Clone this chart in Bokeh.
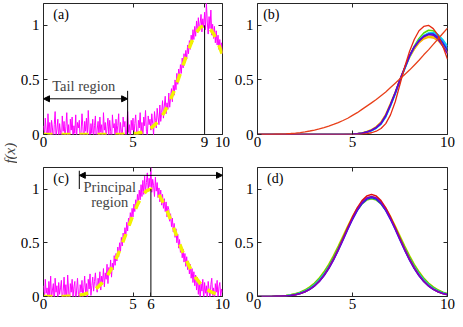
import numpy as np
from math import pi
from bokeh.plotting import figure
from bokeh.layouts import row, column
from bokeh.models import (Range1d, LinearAxis, FixedTicker, Label, Arrow, NormalHead,
                          CustomJSTickFormatter)
from bokeh.embed import file_html
from bokeh.resources import INLINE

# ---------------- data ----------------
x_noisy = np.linspace(0, 10, 201)
x_smooth = np.linspace(0, 10, 41)

# (a) noisy samples (step 0.05) and clean dashed function (step 0.25)
a_noisy = [0.08, -0.03, 0.15, 0.04, -0.07, 0.19, 0.01, 0.11, -0.05, 0.13, 0.06, -0.10, 0.09, 0.21, -0.02, 0.05, 0.14, -0.06, 0.10, 0.02,
           -0.08, 0.17, 0.03, 0.12, -0.04, 0.07, 0.20, -0.01, 0.09, -0.11, 0.14, 0.04, 0.16, -0.05, 0.08, 0.01, 0.18, -0.03, 0.11, 0.06,
           0.13, -0.06, 0.02, 0.19, 0.07, -0.09, 0.12, 0.03, 0.15, -0.02, 0.22, 0.05, -0.07, 0.10, 0.01, 0.14, -0.04, 0.08, 0.17, -0.10,
           0.05, 0.12, -0.03, 0.16, 0.02, 0.09, -0.08, 0.20, 0.04, 0.11, -0.05, 0.07, 0.15, -0.01, 0.13, 0.03, -0.09, 0.18, 0.06, 0.10,
           -0.04, 0.14, 0.01, 0.08, 0.19, -0.06, 0.11, 0.03, -0.02, 0.16, 0.07, 0.12, -0.08, 0.05, 0.21, 0.02, 0.09, -0.05, 0.13, 0.04,
           0.15, -0.03, 0.10, 0.18, 0.02, -0.06, 0.13, 0.06, 0.20, 0.01, 0.11, -0.04, 0.16, 0.08, 0.22, 0.03, -0.02, 0.17, 0.09, 0.14,
           0.04, 0.19, 0.10, -0.01, 0.21, 0.13, 0.06, 0.24, 0.16, 0.09, 0.27, 0.12, 0.20, 0.31, 0.15, 0.26, 0.35, 0.19, 0.29, 0.23,
           0.38, 0.25, 0.34, 0.42, 0.30, 0.45, 0.36, 0.50, 0.41, 0.56, 0.46, 0.60, 0.52, 0.64, 0.56, 0.70, 0.61, 0.74, 0.66, 0.77,
           0.69, 0.82, 0.74, 0.86, 0.78, 0.91, 0.83, 0.96, 0.87, 0.99, 0.90, 1.04, 0.93, 1.07, 0.95, 1.02, 1.10, 0.94, 1.06, 0.98,
           1.12, 0.96, 1.21, 1.03, 0.92, 1.08, 0.97, 1.14, 0.91, 1.01, 0.88, 0.99, 0.84, 0.95, 0.82, 0.91, 0.78, 0.87, 0.76, 0.84,
           0.74]
a_clean = [0, 0, 0, 0, 0, 0, 0, 0, 0, 0, 0, 0, 0, 0, 0, 0, 0, 0,
           0.002, 0.003, 0.007, 0.012, 0.021, 0.036, 0.059, 0.092, 0.140, 0.203,
           0.284, 0.381, 0.492, 0.611, 0.730, 0.838, 0.924, 0.980, 1.0, 0.980,
           0.924, 0.838, 0.730]

# (c) noisy samples (step 0.05) and clean dashed function (step 0.25)
c_noisy = [0.10, -0.04, 0.16, 0.03, 0.08, -0.07, 0.14, 0.01, 0.19, -0.02, 0.06, 0.12, -0.09, 0.17, 0.04, 0.10, -0.05, 0.13, 0.02, 0.08,
           0.15, -0.06, 0.05, 0.18, 0.01, 0.11, -0.03, 0.20, 0.07, -0.08, 0.12, 0.04, 0.16, -0.01, 0.09, 0.14, -0.07, 0.06, 0.17, 0.02,
           -0.05, 0.11, 0.04, 0.15, -0.02, 0.08, 0.19, 0.03, 0.12, -0.06, 0.16, 0.07, 0.21, 0.01, 0.10, 0.18, 0.05, 0.14, 0.22, 0.09,
           0.04, 0.17, 0.11, 0.23, 0.06, 0.19, 0.13, 0.26, 0.09, 0.22, 0.16, 0.30, 0.12, 0.27, 0.21, 0.34, 0.18, 0.31, 0.25, 0.38,
           0.29, 0.40, 0.33, 0.46, 0.37, 0.50, 0.42, 0.55, 0.47, 0.59, 0.52, 0.64, 0.56, 0.69, 0.61, 0.73, 0.66, 0.78, 0.70, 0.82,
           0.74, 0.86, 0.79, 0.90, 0.83, 0.95, 0.87, 0.99, 0.90, 1.04, 0.93, 1.08, 0.95, 1.12, 0.97, 1.06, 1.15, 0.98, 1.10, 1.02,
           1.20, 0.97, 1.09, 1.03, 0.93, 1.11, 0.98, 1.06, 0.92, 1.01, 0.88, 0.99, 0.85, 0.95, 0.82, 0.91, 0.79, 0.88, 0.74, 0.84,
           0.81, 0.70, 0.77, 0.65, 0.73, 0.60, 0.68, 0.55, 0.63, 0.50, 0.58, 0.45, 0.53, 0.41, 0.48, 0.36, 0.44, 0.32, 0.40, 0.28,
           0.37, 0.25, 0.33, 0.21, 0.30, 0.17, 0.26, 0.13, 0.23, 0.10, 0.20, 0.06, 0.18, 0.02, 0.15, -0.02, 0.12, 0.05, 0.16, -0.04,
           0.13, 0.03, 0.10, -0.05, 0.14, 0.06, -0.02, 0.11, 0.17, 0.01, 0.08, -0.06, 0.12, 0.04, 0.15, -0.03, 0.09, 0.13, 0.00, 0.07,
           0.03]
c_clean = [0, 0, 0, 0.001, 0.001, 0.002, 0.004, 0.007, 0.012, 0.020, 0.033, 0.053,
           0.082, 0.122, 0.176, 0.245, 0.329, 0.427, 0.535, 0.648, 0.758, 0.855,
           0.933, 0.983, 1.0, 0.983, 0.933, 0.855, 0.758, 0.648, 0.535, 0.427,
           0.329, 0.245, 0.176, 0.122, 0.082, 0.053, 0.033, 0.020, 0.012]

# (b) reconstructed curves (step 0.25)
b_broad_red = [0, 0, 0.001, 0.002, 0.003, 0.004, 0.006, 0.009, 0.013, 0.018, 0.024,
               0.032, 0.041, 0.051, 0.063, 0.077, 0.092, 0.109, 0.128, 0.149, 0.175,
               0.20, 0.23, 0.26, 0.29, 0.32, 0.355, 0.39, 0.43, 0.47, 0.51,
               0.55, 0.59, 0.635, 0.68, 0.73, 0.775, 0.825, 0.875, 0.925, 0.975]
b_sharp_red = [0, 0, 0, 0, 0, 0, 0, 0, 0, 0, 0, 0, 0, 0, 0, 0, 0, 0, 0, 0, 0,
               0.002, 0.004, 0.008, 0.016, 0.03, 0.055, 0.10, 0.18, 0.30, 0.46,
               0.62, 0.76, 0.87, 0.95, 0.99, 1.0, 0.97, 0.91, 0.81, 0.69]
b_orange = [0, 0, 0, 0, 0, 0, 0, 0, 0, 0, 0, 0, 0, 0, 0, 0, 0, 0, 0,
            0.002, 0.004, 0.008, 0.015, 0.027, 0.045, 0.072, 0.115, 0.185, 0.285, 0.39,
            0.505, 0.61, 0.71, 0.78, 0.84, 0.875, 0.89, 0.885, 0.86, 0.81, 0.745]
b_gold = [0, 0, 0, 0, 0, 0, 0, 0, 0, 0, 0, 0, 0, 0, 0, 0, 0, 0, 0,
          0.002, 0.004, 0.008, 0.014, 0.025, 0.042, 0.068, 0.11, 0.18, 0.28, 0.385,
          0.50, 0.605, 0.705, 0.785, 0.845, 0.885, 0.90, 0.895, 0.87, 0.82, 0.75]
b_green = [0, 0, 0, 0, 0, 0, 0, 0, 0, 0, 0, 0, 0, 0, 0, 0, 0, 0, 0,
           0.001, 0.003, 0.006, 0.012, 0.022, 0.038, 0.062, 0.10, 0.17, 0.27, 0.38,
           0.50, 0.61, 0.72, 0.81, 0.88, 0.93, 0.955, 0.95, 0.91, 0.85, 0.78]
b_cyan = [0, 0, 0, 0, 0, 0, 0, 0, 0, 0, 0, 0, 0, 0, 0, 0, 0, 0, 0,
          0.001, 0.002, 0.005, 0.010, 0.019, 0.034, 0.057, 0.095, 0.16, 0.26, 0.37,
          0.49, 0.60, 0.71, 0.80, 0.865, 0.905, 0.93, 0.935, 0.915, 0.87, 0.81]
b_lightblue = [0, 0, 0, 0, 0, 0, 0, 0, 0, 0, 0, 0, 0, 0, 0, 0, 0, 0, 0,
               0.001, 0.003, 0.006, 0.011, 0.021, 0.036, 0.060, 0.098, 0.165, 0.265, 0.375,
               0.495, 0.605, 0.715, 0.80, 0.86, 0.905, 0.925, 0.925, 0.90, 0.855, 0.79]
b_blue = [0, 0, 0, 0, 0, 0, 0, 0, 0, 0, 0, 0, 0, 0, 0, 0, 0, 0, 0,
          0.001, 0.003, 0.006, 0.012, 0.022, 0.038, 0.062, 0.10, 0.17, 0.27, 0.38,
          0.50, 0.61, 0.72, 0.80, 0.86, 0.90, 0.92, 0.92, 0.89, 0.84, 0.77]
b_purple = [0, 0, 0, 0, 0, 0, 0, 0, 0, 0, 0, 0, 0, 0, 0, 0, 0, 0, 0,
            0.001, 0.003, 0.006, 0.012, 0.023, 0.040, 0.065, 0.105, 0.175, 0.275, 0.385,
            0.505, 0.615, 0.72, 0.80, 0.855, 0.895, 0.915, 0.91, 0.875, 0.81, 0.74]

# (d) reconstructed curves (step 0.25)
d_yellow = [0, 0.001, 0.001, 0.002, 0.004, 0.006, 0.010, 0.017, 0.027, 0.041, 0.061,
            0.089, 0.126, 0.173, 0.232, 0.302, 0.382, 0.471, 0.564, 0.657, 0.745,
            0.821, 0.880, 0.917, 0.930, 0.917, 0.880, 0.821, 0.745, 0.657, 0.564,
            0.471, 0.382, 0.302, 0.232, 0.173, 0.126, 0.089, 0.061, 0.041, 0.027]
d_green = [0, 0.001, 0.001, 0.002, 0.004, 0.006, 0.010, 0.016, 0.026, 0.040, 0.060,
           0.087, 0.123, 0.169, 0.227, 0.295, 0.374, 0.461, 0.552, 0.643, 0.729,
           0.803, 0.861, 0.897, 0.910, 0.897, 0.861, 0.803, 0.729, 0.643, 0.552,
           0.461, 0.374, 0.295, 0.227, 0.169, 0.123, 0.087, 0.060, 0.040, 0.026]
d_cyan = [0, 0, 0.001, 0.001, 0.003, 0.005, 0.008, 0.013, 0.022, 0.034, 0.052,
          0.077, 0.111, 0.155, 0.211, 0.279, 0.358, 0.447, 0.541, 0.636, 0.727,
          0.806, 0.867, 0.907, 0.920, 0.907, 0.867, 0.806, 0.727, 0.636, 0.541,
          0.447, 0.358, 0.279, 0.211, 0.155, 0.111, 0.077, 0.052, 0.034, 0.022]
d_blue = [0, 0, 0, 0.001, 0.002, 0.003, 0.006, 0.010, 0.017, 0.027, 0.043,
          0.066, 0.097, 0.139, 0.193, 0.260, 0.338, 0.428, 0.524, 0.623, 0.716,
          0.799, 0.864, 0.906, 0.920, 0.906, 0.864, 0.799, 0.716, 0.623, 0.524,
          0.428, 0.338, 0.260, 0.193, 0.139, 0.097, 0.066, 0.043, 0.027, 0.017]
d_red = [0, 0, 0.001, 0.001, 0.002, 0.003, 0.006, 0.010, 0.017, 0.028, 0.044,
         0.068, 0.100, 0.143, 0.199, 0.268, 0.350, 0.442, 0.541, 0.643, 0.740,
         0.825, 0.892, 0.935, 0.950, 0.935, 0.892, 0.825, 0.740, 0.643, 0.541,
         0.442, 0.350, 0.268, 0.199, 0.143, 0.100, 0.068, 0.044, 0.028, 0.017]
d_purple = [0, 0, 0, 0.001, 0.002, 0.003, 0.006, 0.010, 0.017, 0.028, 0.044,
            0.066, 0.098, 0.140, 0.195, 0.262, 0.342, 0.432, 0.530, 0.629, 0.724,
            0.808, 0.874, 0.916, 0.930, 0.916, 0.874, 0.808, 0.724, 0.629, 0.530,
            0.432, 0.342, 0.262, 0.195, 0.140, 0.098, 0.066, 0.044, 0.028, 0.017]

# ticks
xticks_a = [0, 5, 9, 10]
xticks_b = [0, 5, 10]
xticks_c = [0, 5, 6, 10]
xticks_d = [0, 5, 10]
yticks = [0, 0.5, 1]

# annotation positions (data units)
tail_end = 4.7
tail_arrow_y = 0.327
tail_bar_top = 0.40
peak_a = 9
peak_a_top = 1.0
princ_start = 2.0
princ_arrow_y = 1.127
princ_bar = (1.0, 1.17)
peak_c = 6
peak_c_top = 1.0

# ---------------- styling helpers ----------------
AX = "#262626"
FONT = "'Liberation Serif', 'Times New Roman', 'DejaVu Serif', serif"
MAG = "#ff00ff"
YEL = "#f2f200"


def style_axis(ax):
    ax.axis_line_color = None
    ax.major_tick_in = 4
    ax.major_tick_out = 0
    ax.minor_tick_line_color = None
    ax.major_tick_line_color = AX
    ax.major_label_text_font = FONT
    ax.major_label_text_font_size = "15px"
    ax.major_label_text_color = "black"


def panel(fh, bt, bb, bl, br, fw, xticks):
    p = figure(frame_width=fw, frame_height=fh,
               x_range=Range1d(0, 10), y_range=Range1d(0, 1.2),
               output_backend="svg", toolbar_location=None,
               min_border_left=bl, min_border_right=br,
               min_border_top=bt, min_border_bottom=bb)
    p.grid.visible = False
    p.outline_line_color = AX
    p.outline_line_alpha = 1.0
    p.outline_line_width = 1
    p.background_fill_color = "white"
    p.border_fill_color = "white"
    p.xaxis.ticker = FixedTicker(ticks=xticks)
    p.yaxis.ticker = FixedTicker(ticks=yticks)
    p.yaxis.formatter = CustomJSTickFormatter(code="return String(tick);")
    style_axis(p.xaxis[0])
    style_axis(p.yaxis[0])
    p.xaxis.major_label_standoff = 2
    p.yaxis.major_label_standoff = 4
    top = LinearAxis(ticker=FixedTicker(ticks=xticks),
                     formatter=CustomJSTickFormatter(code="return '';"))
    right = LinearAxis(ticker=FixedTicker(ticks=yticks),
                       formatter=CustomJSTickFormatter(code="return '';"))
    for ax in (top, right):
        style_axis(ax)
        ax.major_label_text_font_size = "1px"
        ax.major_label_text_color = None
        ax.major_label_standoff = 0
    p.add_layout(top, "above")
    p.add_layout(right, "right")
    return p


def tag(p, txt, x, y):
    p.add_layout(Label(x=x, y=y, text=txt, text_font=FONT, text_font_size="14px",
                       text_align="left", text_baseline="middle", text_color="black"))


# layout sizes (whole content 455 x 318)
FW_L, FW_R = 179, 190
FH_1, FH_2 = 131, 129

# ---------------- panel (a) ----------------
pa = panel(FH_1, 3, 20, 25, 8, FW_L, xticks_a)
pa.line(x_noisy, a_noisy, line_color=MAG, line_width=1)
pa.line(x_smooth, a_clean, line_color=YEL, line_width=3.5, line_dash="9 9")
pa.segment(x0=[tail_end, peak_a], y0=[0, 0], x1=[tail_end, peak_a],
           y1=[tail_bar_top, peak_a_top], line_color="black", line_width=1)
pa.add_layout(Arrow(start=NormalHead(size=6, fill_color="black", line_color="black"),
                    end=NormalHead(size=6, fill_color="black", line_color="black"),
                    x_start=0, y_start=tail_arrow_y, x_end=tail_end, y_end=tail_arrow_y,
                    line_color="black", line_width=1))
pa.add_layout(Label(x=2.25, y=0.44, text="Tail region", text_font=FONT,
                    text_font_size="14.5px", text_align="center", text_baseline="middle"))
tag(pa, "(a)", 0.55, 1.1)

# ---------------- panel (b) ----------------
pb = panel(FH_1, 3, 20, 27, 9, FW_R, xticks_b)
for ys, col in [(b_orange, "#ffa500"), (b_gold, "#eec900"), (b_green, "#55dd00"),
                (b_cyan, "#00d8ee"), (b_lightblue, "#3399ff"), (b_blue, "#1f1fee"),
                (b_purple, "#6a00cc")]:
    pb.line(x_smooth, ys, line_color=col, line_width=1.5)
pb.line(x_smooth, b_broad_red, line_color="#e8401a", line_width=1.3)
pb.line(x_smooth, b_sharp_red, line_color="#e62b12", line_width=1.3)
tag(pb, "(b)", 0.3, 1.1)

# ---------------- panel (c) ----------------
pc = panel(FH_2, 13, 21, 25, 8, FW_L, xticks_c)
pc.line(x_noisy, c_noisy, line_color=MAG, line_width=1)
pc.line(x_smooth, c_clean, line_color=YEL, line_width=3.5, line_dash="9 9")
pc.segment(x0=[peak_c, princ_start], y0=[0, princ_bar[0]], x1=[peak_c, princ_start],
           y1=[peak_c_top, princ_bar[1]], line_color="black", line_width=1)
pc.add_layout(Arrow(start=NormalHead(size=6, fill_color="black", line_color="black"),
                    end=NormalHead(size=6, fill_color="black", line_color="black"),
                    x_start=princ_start, y_start=princ_arrow_y, x_end=10, y_end=princ_arrow_y,
                    line_color="black", line_width=1))
pc.add_layout(Label(x=3.7, y=1.02, text="Principal", text_font=FONT,
                    text_font_size="14.5px", text_align="center", text_baseline="middle"))
pc.add_layout(Label(x=3.7, y=0.875, text="region", text_font=FONT,
                    text_font_size="14.5px", text_align="center", text_baseline="middle"))
tag(pc, "(c)", 0.55, 1.1)

# ---------------- panel (d) ----------------
pd_ = panel(FH_2, 13, 21, 27, 9, FW_R, xticks_d)
for ys, col in [(d_yellow, "#e8e000"), (d_green, "#66cc00"), (d_cyan, "#00c8ee"),
                (d_blue, "#1f1fee"), (d_red, "#e01010"), (d_purple, "#7a00cc")]:
    pd_.line(x_smooth, ys, line_color=col, line_width=1.5)
tag(pd_, "(d)", 0.5, 1.1)

# ---------------- shared y label ----------------
pl = figure(width=17, height=318, x_range=Range1d(0, 1), y_range=Range1d(0, 1),
            output_backend="svg", toolbar_location=None, min_border=0)
pl.axis.visible = False
pl.grid.visible = False
pl.outline_line_color = None
pl.add_layout(Label(x=0.55, y=0.52, text="f(x)", angle=pi / 2, text_align="center",
                    text_baseline="middle", text_font=FONT, text_font_style="italic",
                    text_font_size="15px"))

layout = row(pl, column(row(pa, pb), row(pc, pd_)))

open("out.html", "w").write(file_html(layout, INLINE))
